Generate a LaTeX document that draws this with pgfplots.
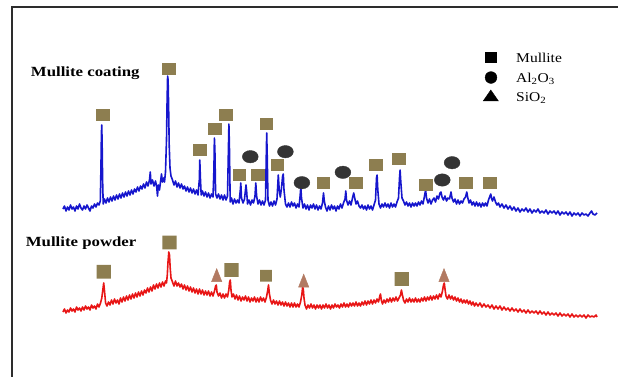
\documentclass[border=0pt]{standalone}
\usepackage{pgfplots}
\pgfplotsset{compat=1.18}
\usepackage{graphicx}
\usepackage{fontspec}
\setmainfont{Liberation Serif}
\definecolor{blueline}{RGB}{22,22,205}
\definecolor{redline}{RGB}{232,22,22}
\definecolor{olivesq}{RGB}{141,126,80}
\definecolor{darkcirc}{RGB}{52,52,52}
\definecolor{browntri}{RGB}{178,122,98}
\definecolor{framegray}{RGB}{45,45,45}
\pgfdeclareplotmark{rsquare}{%
  \pgfsetcornersarced{\pgfqpoint{3.4pt}{3.4pt}}%
  \pgfpathmoveto{\pgfqpoint{0pt}{-\pgfplotmarksize}}%
  \pgfpathlineto{\pgfqpoint{\pgfplotmarksize}{-\pgfplotmarksize}}%
  \pgfpathlineto{\pgfqpoint{\pgfplotmarksize}{\pgfplotmarksize}}%
  \pgfpathlineto{\pgfqpoint{-\pgfplotmarksize}{\pgfplotmarksize}}%
  \pgfpathlineto{\pgfqpoint{-\pgfplotmarksize}{-\pgfplotmarksize}}%
  \pgfpathlineto{\pgfqpoint{0pt}{-\pgfplotmarksize}}%
  \pgfpathclose
  \pgfusepathqfill}
\begin{document}
\begin{tikzpicture}
\begin{axis}[scale only axis, width=618pt, height=376pt,
  xmin=0, xmax=618, ymin=0, ymax=376, y dir=reverse,
  hide axis, clip=true]
\path (rel axis cs:0,0) rectangle (rel axis cs:1,1);
% frame
\draw[line width=1.6pt, color=framegray] (axis cs:12,380) -- (axis cs:12,7) -- (axis cs:620,7);
% Mullite coating (blue)
\addplot[color=blueline, line width=1.6pt, line join=round, mark=none] coordinates {
(63,209)(64.5,206)(66,211)(67.5,207)(69,210)(70.5,205)(72,209)(73.5,207)(75,211)(76.5,206)
(78,209)(79.5,204)(81,208)(82.5,210)(84,206)(85.5,209)(87,205)(88.5,208)(90,211)(91.5,206)
(93,208)(94.5,204)(96,207)(97.5,203)(99,205)(100.3,201)(100.9,170)(101.4,135)(101.7,125)(102.1,140)
(102.6,180)(103.2,204)(104.5,199)(106,203)(107.5,198)(109,202)(110.5,197)(112,201)(113.5,196)(115,200)
(116.5,195)(118,199)(119.5,194)(121,198)(122.5,193)(124,197)(125.5,192)(127,196)(128.5,191)(130,195)
(131.5,190)(133,194)(134.5,189)(136,192)(137.5,187)(139,191)(140.5,186)(142,189)(143.5,184)(145,188)
(146.5,182)(148,186)(149.5,180)(150.3,172)(151,184)(152.5,180)(154,186)(155.5,181)(156.7,187)(157.5,196)
(158.3,185)(159.5,190)(160.5,182)(161.5,174)(162.5,182)(163.5,178)(164.5,182)(165.5,172)(166.5,140)(167.1,100)
(167.6,76)(168.1,80)(168.6,105)(169.2,145)(170,168)(171,176)(172.5,180)(174,185)(175.5,181)(177,187)
(178.5,183)(180,188)(181.5,184)(183,189)(184.5,186)(186,191)(187.5,187)(189,192)(190.5,188)(192,193)
(193.5,189)(195,194)(196.5,190)(198,195)(199.3,180)(199.8,160)(200.4,178)(201.2,195)(202.5,191)(204,196)
(205.5,192)(207,197)(208.5,193)(210,198)(211.5,194)(213,197)(213.9,170)(214.4,138)(214.9,150)(215.6,194)
(217,198)(218.5,194)(220,199)(221.5,195)(223,200)(224.5,195)(226,200)(227.5,196)(228.4,150)(228.9,124)
(229.4,145)(230.2,202)(231.5,198)(233,204)(234.5,199)(236,203)(237.5,200)(239,203)(240.3,190)(240.8,183)
(241.5,198)(243,203)(244.5,199)(246,185)(246.7,192)(247.5,204)(249,200)(250.5,205)(252,200)(253.5,203)
(255,196)(255.8,183)(256.6,196)(258,204)(259.5,200)(261,205)(262.5,201)(264,205)(265.5,200)(266.2,160)
(266.7,133)(267.2,155)(268,200)(269.5,206)(271,202)(272.5,206)(274,201)(275.5,205)(277,199)(278.3,175)
(279.2,190)(280.3,197)(281.5,188)(282.6,176)(283.3,174)(284,190)(285.5,204)(287,207)(288.5,203)(290,207)
(291.5,202)(293,206)(294.5,203)(296,208)(297.5,204)(299,207)(300.2,195)(300.8,187)(301.5,198)(303,208)
(304.5,204)(306,209)(307.5,205)(309,210)(310.5,205)(312,208)(313.5,204)(315,209)(316.5,205)(318,210)
(319.5,206)(321,209)(322.5,203)(323.5,193)(324.3,201)(325.5,207)(327,211)(328.5,206)(330,210)(331.5,205)
(333,209)(334.5,206)(336,211)(337.5,206)(339,209)(340.5,204)(342,208)(343.5,203)(345,199)(345.8,191)
(346.5,200)(348,205)(349.5,201)(351,205)(352.5,198)(353.7,193)(354.5,197)(356,204)(357.5,201)(359,206)
(360.5,208)(362,205)(363.5,209)(365,206)(366.5,210)(368,205)(369.5,209)(371,206)(372.5,210)(374,205)
(375.5,200)(376.5,178)(377.1,175)(377.8,190)(379,204)(380.5,208)(382,204)(383.5,207)(385,203)(386.5,207)
(388,204)(389.5,208)(391,203)(392.5,207)(394,204)(395.5,207)(397,202)(398.5,198)(399.5,178)(400.1,170)
(400.8,182)(402,198)(403.5,201)(405,205)(406.5,202)(408,206)(409.5,203)(411,207)(412.5,203)(414,206)
(415.5,203)(417,206)(418.5,202)(420,205)(421.5,201)(423,204)(424.5,196)(425.6,190)(426.5,198)(428,203)
(429.5,199)(431,204)(432.5,200)(434,198)(435.5,202)(437,196)(438.5,199)(440,193)(441,192)(442,197)
(443.5,200)(445,196)(446.5,201)(448,198)(449.5,199)(451,192)(452,198)(453.5,202)(455,199)(456.5,204)
(458,200)(459.5,204)(461,201)(462.5,203)(464,199)(465.5,197)(466.8,192)(467.6,197)(469,203)(470.5,200)
(472,205)(473.5,202)(475,206)(476.5,202)(478,206)(479.5,203)(481,207)(482.5,203)(484,206)(485.5,203)
(487,206)(488.5,200)(490,196)(490.8,194)(491.5,198)(492.5,201)(494,197)(495.5,202)(497,205)(498.5,203)
(500,207)(502,204)(504,208)(506,205)(508,209)(510,206)(512,210)(514,207)(516,211)(518,208)
(520,212)(522,209)(524,211)(526,208)(528,212)(530,209)(532,213)(534,210)(536,212)(538,209)
(540,213)(542,211)(544,213)(546,210)(548,214)(550,211)(552,213)(554,211)(556,214)(558,211)
(560,215)(562,212)(564,214)(566,212)(568,215)(570,212)(572,216)(574,213)(576,215)(578,213)
(580,216)(582,213)(584,215)(586,214)(588,216)(590,213)(591.5,211)(593,214)(595,215)(597,213)
};
% Mullite powder (red)
\addplot[color=redline, line width=1.6pt, line join=round, mark=none] coordinates {
(63,312)(64.5,309)(66,313)(67.5,310)(69,312)(70.5,308)(72,311)(73.5,309)(75,312)(76.5,307)
(78,310)(79.5,308)(81,311)(82.5,307)(84,310)(85.5,306)(87,309)(88.5,307)(90,310)(91.5,305)
(93,308)(94.5,306)(96,309)(97.5,304)(99,307)(100.5,303)(101.8,298)(102.8,290)(103.7,283)(104.6,292)
(105.6,303)(107,306)(108.5,302)(110,305)(111.5,300)(113,304)(114.5,299)(116,303)(117.5,300)(119,304)
(120.5,298)(122,302)(123.5,297)(125,301)(126.5,296)(128,300)(129.5,295)(131,299)(132.5,294)(134,298)
(135.5,293)(137,297)(138.5,292)(140,296)(141.5,291)(143,295)(144.5,290)(146,293)(147.5,288)(149,292)
(150.5,287)(152,291)(153.5,285)(155,289)(156.5,284)(158,288)(159.5,283)(161,287)(162.5,282)(164,286)
(165.5,281)(166.5,283)(167.3,275)(168,262)(168.8,252)(169.5,255)(170.2,268)(171,278)(172.5,282)(174,286)
(175.5,281)(177,286)(178.5,283)(180,287)(181.5,284)(183,289)(184.5,285)(186,290)(187.5,286)(189,291)
(190.5,287)(192,292)(193.5,288)(195,293)(196.5,289)(198,294)(199.5,289)(201,294)(202.5,290)(204,295)
(205.5,291)(207,295)(208.5,291)(210,296)(211.5,292)(213,296)(214.5,291)(215.6,286)(216.3,285)(217,292)
(218.5,296)(220,293)(221.5,298)(223,294)(224.5,298)(226,294)(227.5,297)(228.8,290)(229.6,282)(230.3,280)
(231,290)(232,297)(233.5,294)(235,299)(236.5,295)(238,300)(239.5,296)(241,301)(242.5,297)(244,300)
(245.5,296)(247,301)(248.5,297)(250,302)(251.5,298)(253,301)(254.5,297)(256,302)(257.5,298)(259,302)
(260.5,297)(262,301)(263.5,298)(265,302)(266.5,297)(267.8,290)(268.5,285)(269.3,293)(270.5,300)(272,304)
(273.5,300)(275,304)(276.5,301)(278,305)(279.5,301)(281,305)(282.5,302)(284,306)(285.5,302)(287,306)
(288.5,303)(290,307)(291.5,303)(293,307)(294.5,303)(296,307)(297.5,304)(299,307)(300.5,302)(301.8,295)
(302.6,287)(303.3,289)(304,298)(305,305)(306.5,309)(308,305)(309.5,308)(311,304)(312.5,308)(314,305)
(315.5,309)(317,305)(318.5,308)(320,305)(321.5,309)(323,305)(324.5,308)(326,304)(327.5,308)(329,305)
(330.5,309)(332,305)(333.5,308)(335,304)(336.5,307)(338,305)(339.5,308)(341,304)(342.5,307)(344,303)
(345.5,307)(347,304)(348.5,307)(350,303)(351.5,306)(353,303)(354.5,306)(356,302)(357.5,306)(359,303)
(360.5,306)(362,302)(363.5,305)(365,301)(366.5,305)(368,301)(369.5,304)(371,300)(372.5,304)(374,300)
(375.5,303)(377,299)(378.5,302)(379.8,296)(380.5,294)(381.3,300)(382.5,304)(384,300)(385.5,303)(387,299)
(388.5,302)(390,298)(391.5,302)(393,298)(394.5,301)(396,297)(397.5,301)(399,298)(400.5,295)(401.4,290)
(402.2,294)(403.5,300)(405,303)(406.5,299)(408,302)(409.5,298)(411,302)(412.5,299)(414,302)(415.5,298)
(417,302)(418.5,299)(420,302)(421.5,298)(423,301)(424.5,297)(426,301)(427.5,297)(429,300)(430.5,296)
(432,300)(433.5,296)(435,299)(436.5,295)(438,299)(439.5,294)(441,297)(442.5,291)(443.5,285)(444.3,283)
(445,289)(446,296)(447.5,299)(449,295)(450.5,299)(452,296)(453.5,300)(455,297)(456.5,301)(458,298)
(459.5,302)(461,299)(462.5,303)(464,300)(465.5,303)(467,300)(468.5,304)(470,301)(471.5,305)(473,302)
(474.5,306)(476,303)(478,306)(480,303)(482,307)(484,304)(486,307)(488,305)(490,308)(492,305)
(494,309)(496,306)(498,309)(500,306)(502,310)(504,307)(506,310)(508,308)(510,311)(512,308)
(514,311)(516,309)(518,312)(520,309)(522,312)(524,310)(526,313)(528,310)(530,313)(532,311)
(534,313)(536,311)(538,314)(540,311)(542,314)(544,312)(546,315)(548,312)(550,315)(552,313)
(554,315)(556,313)(558,316)(560,313)(562,316)(564,314)(566,316)(568,314)(570,317)(572,314)
(574,317)(576,315)(578,317)(580,315)(582,317)(584,315)(586,318)(588,315)(590,317)(592,316)
(594,317)(596,315)(597,317)
};
% coating markers: mullite squares
\addplot[only marks, mark=square*, mark size=5.4pt, color=olivesq, mark options={xscale=1.18}] coordinates {
(102.5,114.3)(168.7,68.3)(199.8,150)(214.8,129)(225.5,114.3)(239.3,174.3)(257.8,174.3)(266.1,124)
(277.1,165)(323.2,182.7)(355.5,182.7)(375.6,165)(398.9,159)(425.7,184.3)(465.9,182.7)(490,182.7)
};
% coating markers: Al2O3 circles
\addplot[only marks, mark=*, mark size=6.2pt, color=darkcirc, mark options={xscale=1.28}] coordinates {
(250.3,156.7)(285.4,151.7)(301.9,182.7)(342.9,172.3)(442.3,180)(452.1,162.7)
};
% powder markers: mullite rounded squares
\addplot[only marks, mark=rsquare, mark size=6.8pt, color=olivesq, mark options={xscale=1.05}] coordinates {
(103.8,271.7)(169.5,242.5)(231.4,270)(401.7,279)
};
\addplot[only marks, mark=rsquare, mark size=5.9pt, color=olivesq] coordinates {
(266,275.8)
};
% powder markers: SiO2 triangles
\addplot[only marks, mark=triangle*, mark size=6pt, color=browntri, mark options={yscale=1.45}] coordinates {
(216.7,277.3)(303.7,282.8)(444,277.3)
};
% legend symbols
\addplot[only marks, mark=square*, mark size=5pt, color=black, mark options={xscale=1.17}] coordinates {(490.8,56.7)};
\addplot[only marks, mark=*, mark size=5.9pt, color=black] coordinates {(491,77.5)};
\addplot[only marks, mark=triangle*, mark size=7.3pt, color=black, mark options={xscale=1.2}] coordinates {(490.8,97.3)};
% texts
\node[anchor=base west, inner sep=0pt] at (axis cs:30.7,76.7)
  {\scalebox{1.2}[1]{\fontsize{14}{16}\selectfont\bfseries Mullite coating}};
\node[anchor=base west, inner sep=0pt] at (axis cs:25.6,246.5)
  {\scalebox{1.2}[1]{\fontsize{14}{16}\selectfont\bfseries Mullite powder}};
\node[anchor=base west, inner sep=0pt] at (axis cs:516,62.5)
  {\scalebox{1.15}[1]{\fontsize{13.5}{15}\selectfont Mullite}};
\node[anchor=base west, inner sep=0pt] at (axis cs:516,82)
  {\scalebox{1.15}[1]{\fontsize{13.5}{15}\selectfont Al\textsubscript{2}O\textsubscript{3}}};
\node[anchor=base west, inner sep=0pt] at (axis cs:516,101)
  {\scalebox{1.15}[1]{\fontsize{13.5}{15}\selectfont SiO\textsubscript{2}}};
\end{axis}
\end{tikzpicture}
\end{document}
